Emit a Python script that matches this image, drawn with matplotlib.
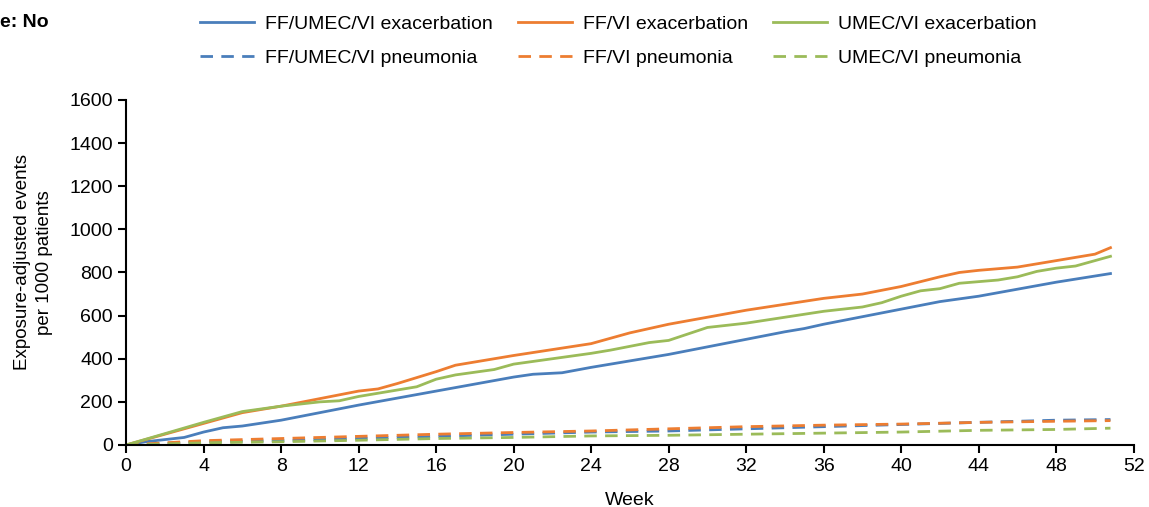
import matplotlib.pyplot as plt
import numpy as np

plt.rcParams['font.family'] = ['Liberation Sans', 'DejaVu Sans']

# exacerbation curves (week, events per 1000 patients)
blue_exac_wk = [0, 1, 3, 4, 5, 6, 8, 12, 16, 20, 21, 22.5, 24, 28, 32, 34, 35, 36, 40, 42, 44, 48, 50.8]
blue_exac = [0, 15, 35, 60, 80, 88, 115, 185, 250, 315, 328, 335, 360, 420, 490, 525, 540, 560, 630, 665, 690, 755, 795]

orange_exac_wk = [0, 4, 6, 8, 12, 13, 14, 16, 17, 20, 24, 26, 28, 32, 36, 38, 40, 42, 43, 44, 46, 48, 50, 50.8]
orange_exac = [0, 100, 150, 180, 250, 260, 285, 340, 370, 415, 470, 520, 560, 625, 680, 700, 735, 780, 800, 810, 825, 855, 885, 915]

green_exac_wk = [0, 4, 6, 8, 10, 11, 12, 14, 15, 16, 17, 19, 20, 22, 24, 25, 27, 28, 30, 32, 36, 38, 39, 40, 41, 42, 43, 45, 46, 47, 48, 49, 50, 50.8]
green_exac = [0, 105, 155, 180, 200, 205, 225, 255, 270, 305, 325, 350, 375, 400, 425, 440, 475, 485, 545, 565, 620, 640, 660, 690, 715, 725, 750, 765, 780, 805, 820, 830, 855, 875]

# pneumonia curves
pneu_wk = [0, 4, 8, 12, 16, 20, 24, 28, 32, 36, 40, 44, 48, 50.8]
blue_pneu = [0, 15, 20, 30, 40, 50, 60, 65, 75, 85, 95, 105, 115, 118]
orange_pneu = [0, 20, 30, 40, 50, 58, 65, 75, 85, 92, 97, 105, 110, 113]
green_pneu = [0, 10, 15, 22, 30, 35, 42, 45, 50, 55, 60, 68, 72, 78]

blue = '#4A7EBB'
orange = '#ED7D31'
green = '#9BBB59'
dash = (0, (4.5, 3))

fig = plt.figure(figsize=(11.49, 5.07), dpi=100)
ax = fig.add_axes([0.1097, 0.1223, 0.877, 0.6805])

b1, = ax.plot(blue_exac_wk, blue_exac, color=blue, lw=2, label='FF/UMEC/VI exacerbation')
b2, = ax.plot(pneu_wk, blue_pneu, color=blue, lw=2, ls=dash, label='FF/UMEC/VI pneumonia')
o1, = ax.plot(orange_exac_wk, orange_exac, color=orange, lw=2, label='FF/VI exacerbation')
o2, = ax.plot(pneu_wk, orange_pneu, color=orange, lw=2, ls=dash, label='FF/VI pneumonia')
g1, = ax.plot(green_exac_wk, green_exac, color=green, lw=2, label='UMEC/VI exacerbation')
g2, = ax.plot(pneu_wk, green_pneu, color=green, lw=2, ls=dash, label='UMEC/VI pneumonia')

ax.set_xlim(0, 52)
ax.set_ylim(0, 1600)
ax.set_xticks(np.arange(0, 53, 4))
ax.set_yticks(np.arange(0, 1601, 200))
ax.spines['top'].set_visible(False)
ax.spines['right'].set_visible(False)
ax.spines['left'].set_linewidth(1.5)
ax.spines['bottom'].set_linewidth(1.5)
ax.tick_params(axis='both', labelsize=14, width=1.5, length=6, direction='out')
ax.set_xlabel('Week', fontsize=14, labelpad=12)
ax.set_ylabel('Exposure-adjusted events\nper 1000 patients', fontsize=13.5, linespacing=1.4)
ax.yaxis.set_label_coords(-0.072, 0.53)

# one legend column per treatment
for x_px, hs in [(200, [b1, b2]), (518, [o1, o2]), (773, [g1, g2])]:
    fig.legend(handles=hs, loc='center left', bbox_to_anchor=(x_px / 1149, 0.919),
               frameon=False, fontsize=14, handlelength=2.8, handletextpad=0.55,
               labelspacing=0.85, borderpad=0, borderaxespad=0)

fig.text(0.0, 0.955, 'e: No', fontsize=14, fontweight='bold', va='center')

fig.savefig('out.png')
